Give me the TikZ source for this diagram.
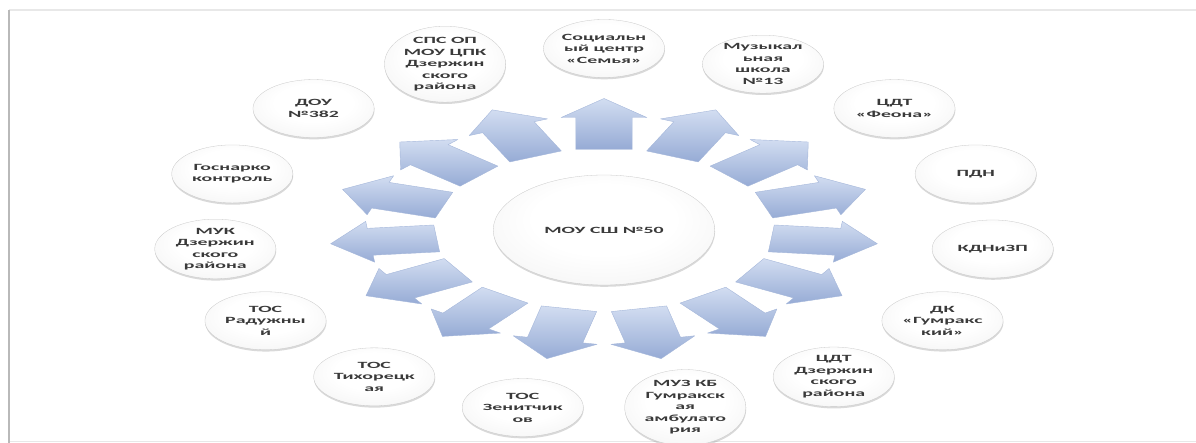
\documentclass[tikz,border=0pt]{standalone}
\usepackage{fontspec}
\setmainfont{Carlito}
\usetikzlibrary{shapes.geometric,shadows}
\definecolor{txtgray}{RGB}{58,58,58}
\definecolor{arrowlight}{RGB}{210,221,241}
\definecolor{arrowdark}{RGB}{150,171,213}
\definecolor{arrowedge}{RGB}{165,183,218}
\definecolor{balledge}{RGB}{200,200,200}
\pgfdeclareradialshading{ballshade}{\pgfpoint{0bp}{7bp}}{%
  color(0bp)=(white); color(16bp)=(white); color(30bp)=(gray!7);
  color(40bp)=(gray!16); color(46bp)=(gray!27); color(50bp)=(gray!36)}
\tikzset{
  ball/.style={ellipse, inner sep=0pt, shading=ballshade, draw=balledge, line width=0.3pt,
    drop shadow={opacity=0.3, shadow xshift=0.3pt, shadow yshift=-1.8pt},
    text=txtgray, align=center, font=\bfseries\fontsize{9.5}{11.5}\selectfont},
  hub/.style={ball, minimum width=106pt, minimum height=110pt},
  sat/.style={ball, minimum width=58pt, minimum height=58pt},
  blockarrow/.style={top color=arrowlight, bottom color=arrowdark,
    draw=arrowedge, line width=0.4pt, line join=round},
  framedark/.style={draw=gray!55, line width=1.6pt},
  framelight/.style={draw=gray!18, line width=1.2pt}
}
\begin{document}
\begin{tikzpicture}[x=1pt,y=1pt]
\useasboundingbox (0,0) rectangle (1196,-443);
\coordinate (tl) at (9,-10);
\coordinate (tr) at (1196,-10);
\coordinate (bl) at (9,-443);
\coordinate (bl2) at (9,-441.5);
\coordinate (br) at (1196,-441.5);
\draw[framelight] (tl) -- (tr);
\draw[framelight] (bl2) -- (br);
\draw[framedark] (tl) -- (bl);
\begin{scope}[shift={(604,-230)}, xscale=2.09, transform shape]
  \node[hub] (hub) at (0,0) {МОУ СШ №50};
  \foreach \i/\t in {
    1/{Социальн\\ый центр\\«Семья»},
    2/{Музыкал\\ьная\\школа\\№13},
    3/{ЦДТ\\«Феона»},
    4/{ПДН},
    5/{КДНиЗП},
    6/{ДК\\«Гумракс\\кий»},
    7/{ЦДТ\\Дзержин\\ского\\района},
    8/{МУЗ КБ\\Гумракск\\ая\\амбулато\\рия},
    9/{ТОС\\Зенитчик\\ов},
    10/{ТОС\\Тихорецк\\ая},
    11/{ТОС\\Радужны\\й},
    12/{МУК\\Дзержин\\ского\\района},
    13/{Госнарко\\контроль},
    14/{ДОУ\\№382},
    15/{СПС ОП\\МОУ ЦПК\\Дзержин\\ского\\района}}
  {
    \pgfmathsetmacro{\ang}{90-24*(\i-1)}
    \coordinate (a\i) at (\ang:106);
    \path[blockarrow, shift={(\ang:106)}, rotate=\ang]
      (-25.5,-13.5) -- (6.5,-13.5) -- (6.5,-20.5) -- (25.5,0)
      -- (6.5,20.5) -- (6.5,13.5) -- (-25.5,13.5) -- cycle;
    \node[sat] (n\i) at ({187*cos(\ang)},{181.5*sin(\ang)}) {\t};
  }
\end{scope}
\end{tikzpicture}
\end{document}
